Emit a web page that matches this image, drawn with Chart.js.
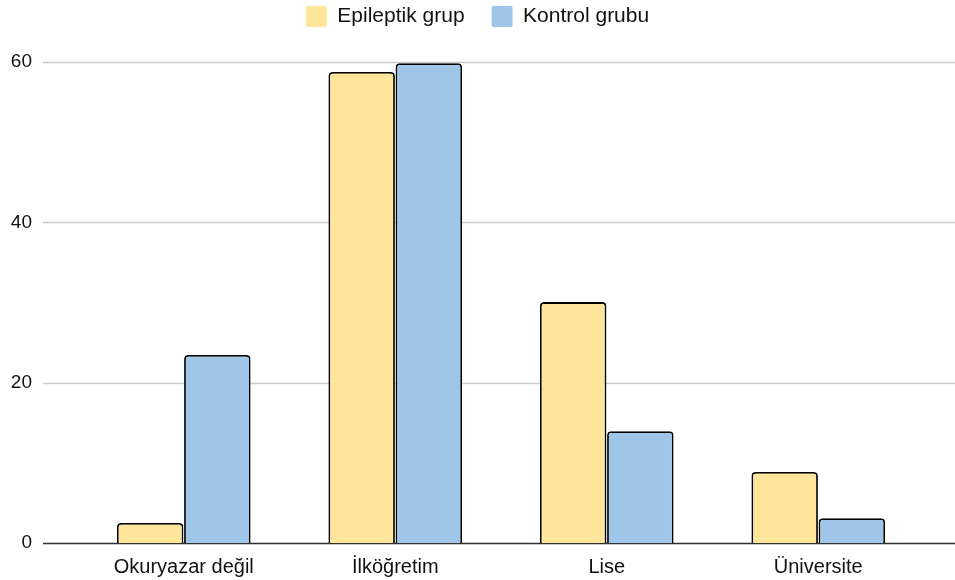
<!DOCTYPE html>
<html><head><meta charset="utf-8">
<script src="https://cdn.jsdelivr.net/npm/chart.js@4"></script>
<style>html,body{margin:0;padding:0;background:#fff;overflow:hidden}canvas{display:block}</style>
</head><body><canvas id="c" width="955" height="580"></canvas>
<script>
const categories = ["Okuryazar değil", "İlköğretim", "Lise", "Üniversite"];
const epileptik = [2.5, 58.75, 30.05, 8.85];
const kontrol = [23.45, 59.85, 13.95, 3.1];
const yTicks = [0, 20, 40, 60];
const FONT = "'Liberation Sans', Arial, sans-serif";

const gridPlugin = {
  id: 'fullGrid',
  afterInit(chart) {
    const lg = chart.legend;
    if (lg) {
      const orig = lg.fit.bind(lg);
      lg.fit = function () { orig(); this.height = 62; };
    }
  },
  afterLayout(chart) {
    const lg = chart.legend;
    if (lg) { lg.left = 0; lg.right = chart.width; lg.top = -21; lg.bottom = 41; }
  },
  beforeDatasetsDraw(chart) {
    const ctx = chart.ctx, y = chart.scales.y;
    ctx.save();
    yTicks.forEach(v => {
      const py = Math.round(y.getPixelForValue(v)) + 0.5;
      ctx.beginPath();
      ctx.lineWidth = 1.5;
      ctx.strokeStyle = v === 0 ? '#333333' : '#cccccc';
      ctx.moveTo(43, py);
      ctx.lineTo(chart.width, py);
      ctx.stroke();
    });
    ctx.restore();
  }
};

new Chart(document.getElementById('c'), {
  type: 'bar',
  data: {
    labels: categories,
    datasets: [
      { label: 'Epileptik grup', data: epileptik, backgroundColor: '#FFE599', borderColor: '#000', borderWidth: 1.8, borderRadius: {topLeft: 4, topRight: 4}, borderSkipped: 'bottom' },
      { label: 'Kontrol grubu', data: kontrol, backgroundColor: '#9FC5E8', borderColor: '#000', borderWidth: 1.8, borderRadius: {topLeft: 4, topRight: 4}, borderSkipped: 'bottom' }
    ]
  },
  options: {
    responsive: false, animation: false, devicePixelRatio: 1,
    layout: { padding: { left: 0, right: 31, top: 0, bottom: 0 } },
    categoryPercentage: 0.635, barPercentage: 0.99,
    plugins: {
      legend: {
        labels: {
          boxWidth: 21, boxHeight: 21, padding: 27, color: '#111',
          font: { family: FONT, size: 21 },
          generateLabels(chart) {
            return chart.data.datasets.map((ds, i) => ({
              text: ds.label, fillStyle: ds.backgroundColor, strokeStyle: ds.backgroundColor,
              lineWidth: 0, hidden: false, datasetIndex: i, fontColor: '#111', borderRadius: 2
            }));
          }
        }
      },
      tooltip: { enabled: false }
    },
    scales: {
      x: {
        grid: { display: false, drawTicks: false, tickLength: 0 }, border: { display: false },
        ticks: { color: '#111', padding: 12, font: { family: FONT, size: 20 } },
        afterFit(s) { s.height = 37; }
      },
      y: {
        min: 0, max: 60,
        afterBuildTicks(s) { s.ticks = yTicks.map(v => ({ value: v })); },
        grid: { display: false, drawTicks: true, tickLength: 40 }, border: { display: false },
        ticks: { color: '#111', padding: 6, font: { family: FONT, size: 19 } },
        afterFit(s) { s.width = 78; }
      }
    }
  },
  plugins: [gridPlugin]
});
</script></body></html>
